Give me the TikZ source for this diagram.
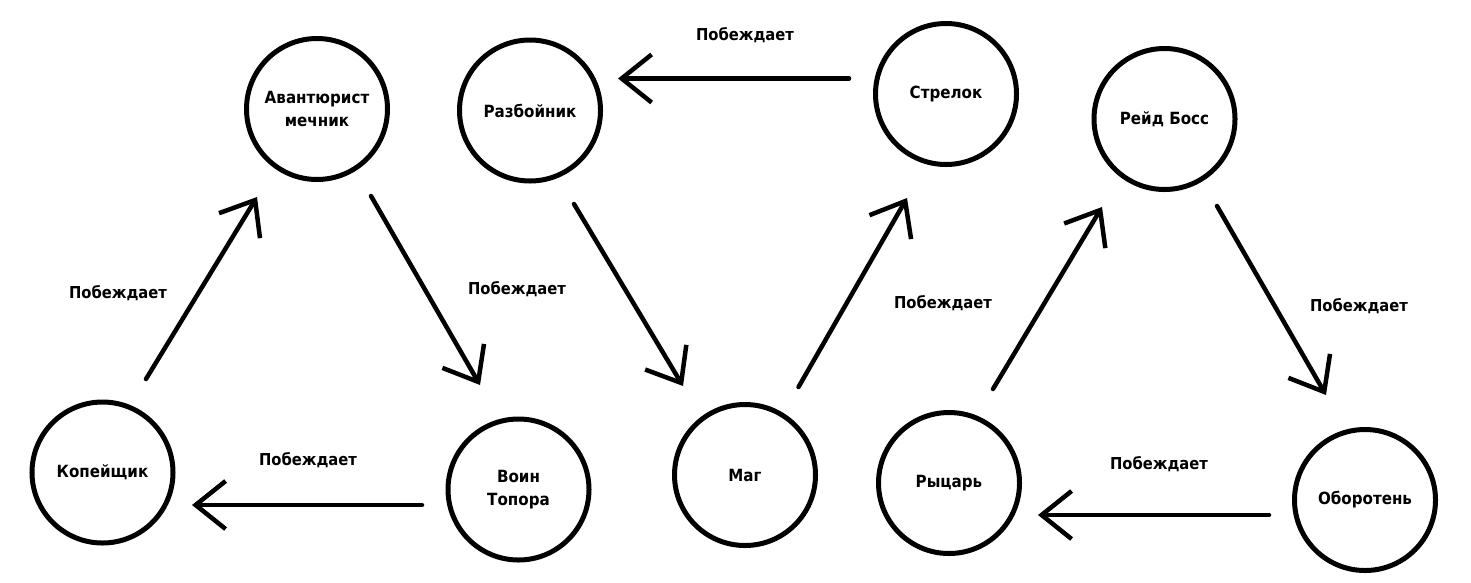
\documentclass[tikz,border=0pt]{standalone}
\usepackage{fontspec}
\setmainfont{DejaVu Sans}[FakeStretch=0.9]
\usetikzlibrary{arrows.meta,calc}
\begin{document}
\begin{tikzpicture}[x=1pt,y=-1pt,
  unit/.style={circle,draw,line width=5pt,inner sep=0pt,outer sep=0pt,minimum size=141pt,
    font=\fontsize{16.8}{23.5}\selectfont\bfseries,align=center},
  beats/.style={line width=4.5pt,line cap=round,
    -{Straight Barb[length=30pt,width=48pt,line width=4.5pt]}},
  lbl/.style={font=\fontsize{16.4}{21}\selectfont\bfseries,inner sep=0pt}]
\useasboundingbox (0,0) rectangle (1471,582);
\fill[white] (0,0) rectangle (1471,582);
% units
\node[unit] (avan)  at (317,109)   {Авантюрист\\мечник};
\node[unit] (razb)  at (530,110.5) {Разбойник};
\node[unit] (strel) at (946,94)    {Стрелок};
\node[unit] (reid)  at (1164.5,119){Рейд Босс};
\node[unit] (kop)   at (102.5,472.5){Копейщик};
\node[unit] (voin)  at (518.5,489.5){Воин\\Топора};
\node[unit] (mag)   at (745,475)   {Маг};
\node[unit] (ryc)   at (949,483)   {Рыцарь};
\node[unit] (obor)  at (1365,500)  {Оборотень};
% connectors
\draw[beats] ($(kop)+(43.5,-93.5)$) -- ($(avan)+(-60,88)$);
\draw[beats] ($(avan)+(54,87)$) -- ($(voin)+(-38.5,-104.5)$);
\draw[beats] ($(voin)+(-96.5,15.5)$) -- ($(kop)+(89.5,32.5)$);
\draw[beats] ($(razb)+(44,93.5)$) -- ($(mag)+(-62,-89)$);
\draw[beats] ($(mag)+(53.5,-88)$) -- ($(strel)+(-39,104)$);
\draw[beats] ($(strel)+(-97,-15.5)$) -- ($(razb)+(88,-32)$);
\draw[beats] ($(ryc)+(44,-94)$) -- ($(reid)+(-62.5,88)$);
\draw[beats] ($(reid)+(52.5,87)$) -- ($(obor)+(-39,-105)$);
\draw[beats] ($(obor)+(-96,15)$) -- ($(ryc)+(89,32)$);
% labels
\node[lbl] (l1) at (745,35)  {Побеждает};
\node[lbl] (l2) at (118,293) {Побеждает};
\node[lbl] (l3) at (517,289) {Побеждает};
\node[lbl] (l4) at (308,460) {Побеждает};
\node[lbl] (l5) at (943,303) {Побеждает};
\node[lbl] (l6) at (1359,306){Побеждает};
\node[lbl] (l7) at (1159,464){Побеждает};
\end{tikzpicture}
\end{document}
